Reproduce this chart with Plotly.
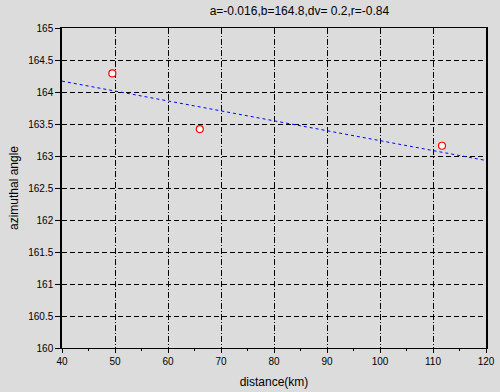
import plotly.graph_objects as go

# observed points
dist_km = [49.5, 66.0, 111.7]
azimuth = [164.29, 163.42, 163.16]

# fitted line (endpoints)
fit_x = [40, 120]
fit_y = [164.17, 162.93]

title_text = "a=-0.016,b=164.8,dv= 0.2,r=-0.84"
x_ticks = [40, 50, 60, 70, 80, 90, 100, 110, 120]
y_ticks = [160, 160.5, 161, 161.5, 162, 162.5, 163, 163.5, 164, 164.5, 165]

bg = "#dcdcdc"
font = "Liberation Sans, Arial, sans-serif"

fig = go.Figure()
fig.add_trace(go.Scatter(x=fit_x, y=fit_y, mode="lines",
                         line=dict(color="#0000ff", width=1, dash="3px,3px"),
                         showlegend=False, hoverinfo="skip"))
fig.add_trace(go.Scatter(x=dist_km, y=azimuth, mode="markers",
                         marker=dict(symbol="circle", size=7, color="white",
                                     line=dict(color="#ff0000", width=1.2)),
                         showlegend=False))

fig.update_layout(
    width=500, height=392,
    paper_bgcolor=bg, plot_bgcolor=bg,
    margin=dict(l=62, r=14, t=28, b=44, autoexpand=False),
    font=dict(family=font, color="#000000", size=10),
    title=dict(text=title_text, x=0.56, xanchor="center", xref="paper",
               y=1 - 11/392, yanchor="middle", yref="container",
               font=dict(size=12, family=font, color="#000000")),
    xaxis=dict(range=[40, 120], tickvals=x_ticks, ticktext=[str(v) for v in x_ticks],
               automargin=False,
               showline=True, linecolor="black", linewidth=1, mirror=True,
               ticks="outside", ticklen=4, tickcolor="black",
               showgrid=True, gridcolor="black", gridwidth=1, griddash="6px,2px,1px,2px",
               zeroline=False,
               minor=dict(dtick=5, tick0=40, ticks="outside", ticklen=2, tickcolor="black", showgrid=False),
               title=dict(text="distance(km)", font=dict(size=12, family=font), standoff=11),
               tickfont=dict(size=10)),
    yaxis=dict(range=[160, 165], tickvals=y_ticks,
               ticktext=["160", "160.5", "161", "161.5", "162", "162.5", "163", "163.5", "164", "164.5", "165"],
               automargin=False,
               showline=True, linecolor="black", linewidth=1.5, mirror=True,
               ticks="outside", ticklen=5, tickcolor="black",
               showgrid=True, gridcolor="black", gridwidth=1, griddash="5px,3px",
               zeroline=False,
               title=dict(text="azimuthal angle", font=dict(size=12, family=font), standoff=7),
               tickfont=dict(size=10)),
)

fig.write_html("out.html", config={"displayModeBar": False},
               post_script="document.body.style.margin='0px';document.body.style.background='#dcdcdc';")
